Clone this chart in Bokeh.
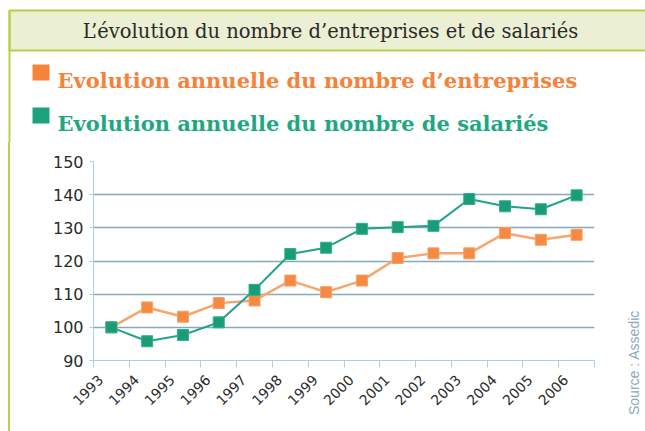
from bokeh.plotting import figure
from bokeh.layouts import column, row
from bokeh.models import Range1d, FixedTicker, LinearAxis, Label, Spacer, Div
from bokeh.embed import file_html
from bokeh.resources import INLINE
import math

years = ["1993", "1994", "1995", "1996", "1997", "1998", "1999",
         "2000", "2001", "2002", "2003", "2004", "2005", "2006"]
entreprises = [100, 106, 103.2, 107.3, 108.1, 114.1, 110.6,
               114.1, 120.9, 122.3, 122.3, 128.4, 126.4, 127.9]
salaries = [100, 95.8, 97.7, 101.5, 111.3, 122.1, 124,
            129.7, 130.2, 130.6, 138.7, 136.5, 135.6, 139.8]
y_ticks = [90, 100, 110, 120, 130, 140, 150]

title_text = "L\u2019évolution du nombre d\u2019entreprises et de salariés"
leg1 = "Evolution annuelle du nombre d\u2019entreprises"
leg2 = "Evolution annuelle du nombre de salariés"
source_text = "Source : Assedic"

W, H = 645, 431
HEAD_H = 142
LEFT_W = 20
RIGHT_W = 35
CHART_W = W - LEFT_W - RIGHT_W
CHART_H = H - HEAD_H
BORDER = "#b9cf4a"

# ---- header ----
hd = figure(width=W, height=HEAD_H, output_backend="svg", toolbar_location=None,
            x_range=Range1d(0, W), y_range=Range1d(HEAD_H, 0),
            min_border=0, x_axis_location=None, y_axis_location=None)
hd.outline_line_color = None
hd.xgrid.visible = False
hd.ygrid.visible = False
hd.background_fill_color = "white"
hd.border_fill_color = "white"
hd.quad(left=9, right=W + 5, top=10, bottom=50, fill_color="#ebefd3",
        line_color=BORDER, line_width=2)
hd.quad(left=8, right=10, top=10, bottom=HEAD_H + 2, fill_color=BORDER, line_color=None)
hd.add_layout(Label(x=330, y=31, text=title_text, text_align="center", text_baseline="middle",
                    text_font="DejaVu Serif", text_font_size="19.5px", text_color="#2a2a2a"))
hd.quad(left=32, right=49, top=64, bottom=80, fill_color="#f4843a", line_color=None)
hd.quad(left=32, right=49, top=107, bottom=123, fill_color="#1aa37e", line_color=None)
hd.add_layout(Label(x=57, y=80, text=leg1, text_align="left", text_baseline="alphabetic",
                    text_font="DejaVu Serif", text_font_style="bold",
                    text_font_size="21px", text_color="#f5823b"))
hd.add_layout(Label(x=57, y=123, text=leg2, text_align="left", text_baseline="alphabetic",
                    text_font="DejaVu Serif", text_font_style="bold",
                    text_font_size="21px", text_color="#1ea882"))

# ---- left border strip ----
gap1 = Spacer(width=8, height=CHART_H)
vline = Spacer(width=2, height=CHART_H, styles={"background-color": BORDER})
gap2 = Spacer(width=LEFT_W - 10, height=CHART_H)

# ---- source text ----
src_html = ('<div style="position:absolute; left:12px; top:%dpx; transform:rotate(-90deg); '
            'transform-origin:0 0; white-space:nowrap; font-family:\'Liberation Sans\'; '
            'font-size:14px; line-height:14px; color:#8ea8b9;">%s</div>'
            % (410 - HEAD_H, source_text))
src = Div(text=src_html, width=RIGHT_W, height=CHART_H)

# ---- chart ----
n = len(years)
xc = [i + 0.5 for i in range(n)]
p = figure(width=CHART_W, height=CHART_H, output_backend="svg", toolbar_location=None,
           x_range=Range1d(0, n), y_range=Range1d(90, 150),
           min_border_left=93 - LEFT_W, min_border_right=(W - RIGHT_W) - 594,
           min_border_top=161 - HEAD_H, min_border_bottom=H - 360,
           x_axis_location=None, y_axis_location=None)
p.outline_line_color = None
p.background_fill_color = "white"
p.border_fill_color = "white"

yax = LinearAxis(ticker=FixedTicker(ticks=y_ticks))
yax.axis_line_color = "#a8d0e6"
yax.major_tick_out = 4
yax.major_tick_in = 0
yax.major_tick_line_color = "#a8d0e6"
yax.minor_tick_line_color = None
yax.major_label_text_font = "DejaVu Sans"
yax.major_label_text_font_size = "16px"
yax.major_label_text_color = "#2a2a2a"
yax.major_label_standoff = 6
p.add_layout(yax, "left")

xax = LinearAxis(ticker=FixedTicker(ticks=list(range(n + 1))))
xax.axis_line_color = "#a8d0e6"
xax.major_tick_out = 7
xax.major_tick_in = 0
xax.major_tick_line_color = "#a8d0e6"
xax.minor_tick_line_color = None
xax.major_label_text_alpha = 0
xax.major_label_text_font_size = "1px"
xax.major_label_standoff = 0
p.add_layout(xax, "below")

lab_pos = [i + 0.2 for i in range(n)]
lax = LinearAxis(ticker=FixedTicker(ticks=lab_pos))
lax.major_label_overrides = {pos: y for pos, y in zip(lab_pos, years)}
lax.axis_line_color = None
lax.major_tick_line_color = None
lax.minor_tick_line_color = None
lax.major_label_orientation = math.pi / 4
lax.major_label_text_font = "DejaVu Sans"
lax.major_label_text_font_size = "14px"
lax.major_label_text_color = "#2a2a2a"
lax.major_label_standoff = 4
p.add_layout(lax, "below")

p.xgrid.visible = False
p.ygrid.ticker = FixedTicker(ticks=y_ticks)
p.ygrid.grid_line_color = "#86a9c0"
p.ygrid.grid_line_width = 1.5

p.line(xc, entreprises, line_color="#f7a56c", line_width=2.5)
p.scatter(xc, entreprises, marker="square", size=11, fill_color="#f58a42", line_color="#f6a066")
p.line(xc, salaries, line_color="#1fa38a", line_width=2)
p.scatter(xc, salaries, marker="square", size=11, fill_color="#1a9c78", line_color="#2db08c")

layout = column(hd, row(gap1, vline, gap2, p, src, spacing=0), spacing=0)
open("out.html", "w").write(file_html(layout, INLINE))
